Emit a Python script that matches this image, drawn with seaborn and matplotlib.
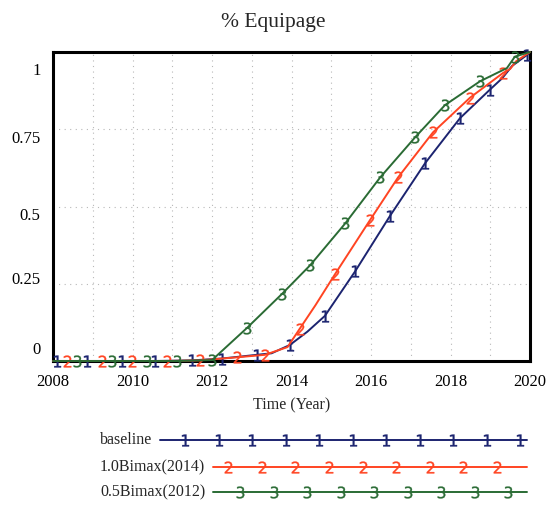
import numpy as np
import matplotlib
matplotlib.use('Agg')
import matplotlib.pyplot as plt
from matplotlib.transforms import ScaledTranslation
import seaborn as sns

sns.set_style('white')
plt.rcParams['font.family'] = ['Liberation Serif', 'DejaVu Serif']
plt.rcParams['mathtext.fontset'] = 'dejavusans'

# 그림에서 읽은 값 (마커 위치 기준)
base_year = [2008.0, 2008.1, 2008.86, 2009.74, 2010.57, 2011.5, 2012.25, 2013.13, 2013.5, 2013.96,
             2014.4, 2014.84, 2015.6, 2016.48, 2017.36, 2018.24, 2018.99, 2019.3, 2019.55, 2019.92, 2020.0]
base_val = [0, 0, 0, 0, 0, 0.002, 0.008, 0.02, 0.025, 0.052,
            0.095, 0.146, 0.29, 0.47, 0.64, 0.786, 0.878, 0.915, 0.955, 0.99, 1.0]
base_mark = [1, 2, 3, 4, 5, 6, 7, 9, 11, 12, 13, 14, 15, 16, 19]

red_year = [2008.0, 2008.35, 2009.23, 2009.99, 2010.87, 2011.70, 2012.63, 2013.33, 2013.9, 2014.21,
            2014.6, 2015.09, 2015.97, 2016.68, 2017.56, 2018.49, 2019.32, 2019.5, 2019.65, 2020.0]
red_val = [0, 0, 0, 0, 0, 0.002, 0.012, 0.02, 0.045, 0.105,
           0.18, 0.28, 0.455, 0.594, 0.74, 0.852, 0.932, 0.945, 0.97, 1.0]
red_mark = [1, 2, 3, 4, 5, 6, 7, 9, 11, 12, 13, 14, 15, 16]

green_year = [2008.0, 2008.6, 2009.48, 2010.36, 2011.12, 2012.0, 2012.88, 2013.76, 2014.47, 2015.35,
              2016.23, 2017.11, 2017.86, 2018.74, 2019.42, 2019.62, 2020.0]
green_val = [0, 0, 0, 0, 0, 0.003, 0.107, 0.217, 0.31, 0.445,
             0.594, 0.724, 0.828, 0.905, 0.948, 0.985, 1.0]
green_mark = [1, 2, 3, 4, 5, 6, 7, 8, 9, 10, 11, 12, 13, 15]

names = ['baseline', '1.0Bimax(2014)', '0.5Bimax(2012)']
colors = ['#1c2470', '#ff4422', '#2a6b34']
digits = ['$1$', '$2$', '$3$']

fig = plt.figure(figsize=(5.47, 5.08), dpi=100)
ax = fig.add_axes([53 / 547, 1 - 361 / 508, 477 / 547, 309 / 508])

series = [(base_year, base_val, base_mark), (red_year, red_val, red_mark), (green_year, green_val, green_mark)]
for (xs, ys, mk), c, d in zip(series, colors, digits):
    sns.lineplot(x=xs, y=ys, color=c, lw=1.4, marker=d, markevery=mk, markersize=8.5,
                 markeredgecolor=c, markeredgewidth=0.25, ax=ax, clip_on=False, zorder=3)

ax.set_xlim(2008, 2020)
ax.set_ylim(0, 1)
ax.set_xticks(range(2008, 2021, 2))
ax.set_xticks(range(2008, 2021), minor=True)
yt = [0, 0.25, 0.5, 0.75, 1]
ax.set_yticks(yt, ['0', '0.25', '0.5', '0.75', '1'])
ax.grid(True, which='both', ls=(0, (1, 4)), color='#b8b8b8', lw=0.8)
ax.tick_params(which='both', length=0, labelsize=12, colors='black')
ax.tick_params(axis='x', pad=9)
ax.tick_params(axis='y', pad=9)
# 라벨 위치 보정 (원본처럼 안쪽으로 몰림)
shift = [-13, -6, 7, 8, 17]
for lab, s in zip(ax.get_yticklabels(), shift):
    lab.set_transform(lab.get_transform() + ScaledTranslation(0, -s / 100, fig.dpi_scale_trans))
for sp in ax.spines.values():
    sp.set_color('black')
    sp.set_linewidth(2.2)
    sp.set_zorder(2)
ax.set_xlabel('Time (Year)', fontsize=11.5, labelpad=6)
ax.set_ylabel('')
fig.text(273 / 547, 1 - 22 / 508, '% Equipage', ha='center', va='center', fontsize=15.5)

# 범례 (아래쪽, 직접 그림)
lax = fig.add_axes([0, 0, 1, 1], zorder=-1)
lax.set_xlim(0, 547)
lax.set_ylim(508, 0)
lax.axis('off')
rows = [440, 467, 492]
starts = [160, 213, 213]
mk_pos = [np.linspace(185, 520, 11), np.linspace(228, 497, 9), np.linspace(240, 508, 9)]
for name, c, d, y, x0, mp in zip(names, colors, digits, rows, starts, mk_pos):
    lax.text(100, y, name, ha='left', va='center', fontsize=11.5)
    lax.plot([x0, 527], [y, y], color=c, lw=1.4)
    lax.plot(mp, [y] * len(mp), ls='none', marker=d, markersize=8.5, color=c, mec=c, mew=0.25)

plt.savefig('out.png', dpi=100)
